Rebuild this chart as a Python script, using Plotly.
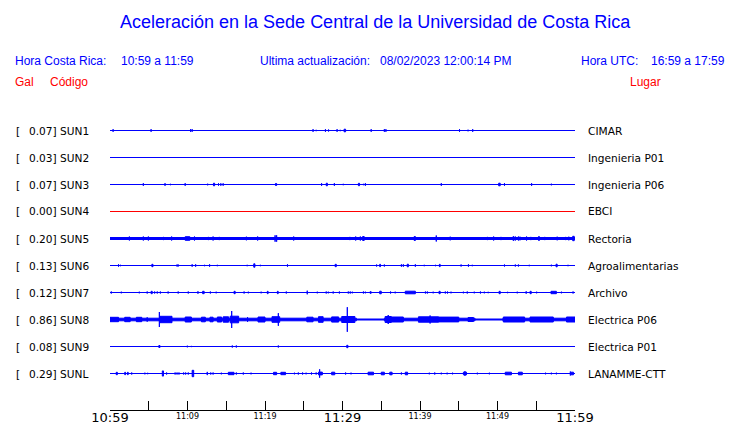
import plotly.graph_objects as go

# ---------------- data ----------------
codes = ["SUN1", "SUN2", "SUN3", "SUN4", "SUN5", "SUN6", "SUN7", "SUN8", "SUN9", "SUNL"]
places = ["CIMAR", "Ingenieria P01", "Ingenieria P06", "EBCI", "Rectoria",
          "Agroalimentarias", "Archivo", "Electrica P06", "Electrica P01", "LANAMME-CTT"]
peak_gal = [0.07, 0.03, 0.07, 0.00, 0.20, 0.13, 0.12, 0.86, 0.08, 0.29]
trace_colors = ["#0000ff", "#0000ff", "#0000ff", "#ff0000", "#0000ff",
                "#0000ff", "#0000ff", "#0000ff", "#0000ff", "#0000ff"]

# background noise band: (start_min, end_min, half amplitude)
sun1_band = [(0, 60, 0)]
sun2_band = [(0, 60, 0)]
sun3_band = [(0, 60, 0)]
sun4_band = [(0, 60, 0)]
sun5_band = [(0, 60, 1.0)]
sun6_band = [(0, 60, 0)]
sun7_band = [(0, 60, 0)]
sun8_band = [(0, 31.8, 1.3), (31.8, 35.4, 0.5), (35.4, 47.1, 1.3), (47.1, 50.7, 0.5), (50.7, 60, 1.3)]
sun9_band = [(0, 60, 0)]
sunl_band = [(0, 60, 0)]

# events: (start_min, end_min, half amplitude)
sun1_events = [(0.4, 0.4, 1.3), (5.3, 5.3, 1.3), (10.4, 10.4, 1.3), (10.6, 10.6, 1.3), (26.2, 26.2, 1.3),
               (26.6, 26.6, 0.7), (27.8, 27.8, 1.3), (28.2, 28.2, 1.0), (29.3, 29.3, 1.3), (29.7, 29.7, 0.7),
               (30.2, 30.4, 1.3), (33.7, 33.7, 1.3), (35.4, 35.4, 1.3), (35.6, 35.6, 1.3), (45.1, 45.1, 1.3),
               (46.2, 46.2, 0.8), (46.8, 46.8, 1.3)]
sun2_events = []
sun3_events = [(4.3, 4.3, 1.3), (7.1, 7.1, 1.3), (7.8, 7.8, 0.7), (9.7, 9.7, 1.3), (12.6, 12.6, 0.8),
               (13.35, 13.5, 1.3), (14.0, 14.0, 1.2), (14.3, 14.3, 1.2), (14.6, 14.6, 1.2), (21.35, 21.5, 1.0),
               (27.3, 27.3, 1.3), (27.9, 28.05, 1.3), (28.95, 28.95, 1.3), (30.1, 30.1, 0.7), (32.05, 32.2, 1.2),
               (32.7, 32.7, 0.7), (32.95, 32.95, 1.3), (42.75, 42.75, 1.3), (50.15, 50.35, 1.3), (50.9, 50.9, 1.3),
               (54.4, 54.4, 1.3), (56.95, 56.95, 0.8)]
sun4_events = []
sun5_events = [(2.5, 2.5, 2), (4.3, 4.3, 2), (4.95, 4.95, 2), (6.9, 6.9, 1.6), (7.95, 7.95, 2), (9.7, 10.3, 1.8),
               (10.9, 10.9, 2), (12.7, 12.7, 1.6), (13.3, 13.3, 2), (14.1, 14.1, 1.6), (17.6, 17.6, 1.8),
               (19.05, 19.05, 2), (19.35, 19.35, 1.5), (21.3, 21.3, 3.2), (21.5, 21.5, 3.2), (23.7, 23.7, 2),
               (30.95, 30.95, 1.6), (31.7, 31.7, 2), (32.3, 32.3, 2), (32.6, 32.8, 2), (39.25, 39.4, 2),
               (42.1, 42.1, 3), (43.9, 43.9, 1.8), (48.7, 48.7, 1.6), (49.5, 49.5, 2), (50.45, 50.45, 1.6),
               (52.0, 52.1, 2), (52.3, 52.3, 2), (52.7, 52.7, 2), (52.9, 52.9, 1.8), (53.75, 53.75, 2),
               (54.3, 54.3, 1.6), (55.3, 55.4, 2), (56.1, 56.1, 1.6), (57.7, 57.7, 1.8), (58.8, 58.8, 1.6),
               (59.2, 59.2, 1.8), (59.7, 59.9, 2.2)]
sun6_events = [(1.1, 1.1, 1.2), (1.35, 1.35, 0.7), (5.4, 5.55, 1.2), (8.65, 8.65, 1.0), (8.8, 8.8, 1.0),
               (10.6, 10.6, 1.2), (11.05, 11.05, 1.2), (12.2, 12.2, 0.7), (12.85, 12.85, 1.2), (13.85, 13.85, 0.7),
               (17.7, 17.7, 0.7), (18.55, 18.7, 1.7), (19.4, 19.4, 0.7), (22.9, 22.9, 1.2), (29.05, 29.2, 1.2),
               (34.4, 34.4, 1.0), (34.8, 34.9, 1.2), (35.4, 35.4, 1.0), (37.6, 37.6, 1.2), (37.85, 37.85, 1.2),
               (38.35, 38.5, 1.3), (39.4, 39.4, 1.2), (40.55, 40.55, 0.7), (42.0, 42.0, 0.7), (42.5, 42.6, 1.2),
               (45.3, 45.3, 1.0), (46.25, 46.25, 1.2), (46.75, 46.75, 0.7), (50.9, 50.9, 1.0), (52.3, 52.3, 1.0),
               (52.7, 52.7, 1.0), (54.1, 54.1, 0.7), (56.95, 56.95, 0.8), (57.55, 57.7, 1.3), (59.1, 59.1, 0.7)]
sun7_events = [(0.17, 0.17, 1.0), (1.46, 1.46, 0.8), (3.78, 3.78, 0.8), (4.8, 4.8, 1.0), (5.3, 5.45, 1.2),
               (5.76, 5.76, 1.0), (6.1, 6.1, 1.0), (6.5, 6.5, 1.0), (7.5, 7.5, 1.0), (8.8, 8.8, 1.0),
               (10.1, 10.1, 1.0), (11.35, 11.35, 1.2), (11.95, 12.15, 1.2), (12.95, 12.95, 1.0), (13.7, 13.7, 0.8),
               (16.0, 16.15, 1.2), (17.3, 17.3, 1.0), (17.85, 17.85, 0.8), (19.5, 19.5, 0.8), (20.3, 20.4, 1.2),
               (21.6, 21.7, 1.2), (22.75, 22.75, 1.0), (25.45, 25.45, 1.8), (26.75, 26.75, 0.8), (27.9, 27.9, 1.0),
               (28.17, 28.17, 0.8), (28.8, 28.8, 1.0), (29.6, 29.6, 1.0), (30.75, 30.75, 1.0), (31.0, 31.0, 1.0),
               (31.27, 31.27, 0.8), (32.7, 32.7, 1.0), (32.95, 32.95, 0.8), (33.55, 33.7, 0.8), (34.8, 35.0, 1.3),
               (36.2, 36.2, 1.0), (36.8, 36.8, 0.8), (38.1, 39.4, 1.3), (40.7, 40.7, 1.0), (40.95, 40.95, 1.0),
               (41.7, 41.7, 0.8), (42.45, 42.6, 1.2), (43.27, 43.27, 1.0), (43.55, 43.55, 1.0), (44.0, 44.0, 0.8),
               (45.6, 45.6, 0.8), (46.1, 46.1, 1.0), (47.0, 47.0, 0.8), (47.8, 47.8, 1.0), (48.3, 48.3, 0.8),
               (48.8, 48.8, 0.7), (50.2, 50.35, 1.2), (51.3, 51.3, 0.7), (52.55, 52.55, 0.8), (53.7, 53.7, 1.2),
               (54.2, 54.35, 1.2), (55.05, 55.05, 0.8), (56.9, 57.6, 1.2), (58.25, 58.25, 0.8), (59.75, 59.75, 1.0)]
sun8_events = [(0.0, 1.1, 2.2), (1.9, 2.6, 2.2), (3.4, 4.1, 2.2), (4.8, 4.8, 2.2), (6.37, 6.37, 7.5),
               (6.45, 8.0, 3.2), (9.7, 10.5, 2.5), (11.8, 12.3, 2.3), (12.9, 13.3, 2.3), (13.85, 14.4, 2.5),
               (14.6, 15.3, 2.7), (15.5, 16.6, 3.3), (15.7, 15.7, 8.5), (17.75, 17.75, 2.3), (19.1, 20.0, 2.5),
               (20.9, 21.9, 2.8), (21.72, 21.72, 6.3), (25.4, 26.2, 2.3), (26.9, 27.5, 2.8), (28.6, 29.5, 2.6),
               (29.9, 31.6, 3.0), (30.62, 30.62, 12.3), (35.5, 36.3, 3.0), (35.9, 35.9, 4.5), (36.3, 37.85, 2.5),
               (39.8, 42.4, 2.7), (41.3, 41.3, 4.0), (42.4, 45.0, 2.4), (46.2, 46.9, 2.0), (50.75, 53.5, 2.5),
               (54.2, 57.2, 2.5), (58.9, 60.0, 2.5)]
sun9_events = [(6.3, 6.45, 1.0), (9.98, 9.98, 0.8), (10.5, 10.5, 0.6), (15.78, 15.78, 1.0), (16.3, 16.3, 1.0),
               (21.72, 21.72, 1.0), (30.55, 30.7, 1.2)]
sunl_events = [(0.8, 0.95, 1.2), (1.9, 2.0, 1.2), (2.25, 2.35, 1.2), (2.8, 2.8, 1.0), (4.5, 4.5, 0.8),
               (4.86, 4.86, 0.7), (6.75, 6.9, 2.6), (7.3, 7.3, 1.0), (8.4, 8.4, 1.0), (8.65, 8.65, 1.0),
               (8.9, 8.9, 1.0), (9.5, 9.5, 1.0), (9.76, 9.76, 1.0), (10.1, 10.1, 1.0), (10.6, 10.8, 3.2),
               (12.55, 12.55, 1.6), (13.0, 13.0, 1.0), (13.3, 13.3, 1.0), (14.37, 14.37, 0.8), (15.27, 16.0, 1.2),
               (16.3, 16.3, 1.0), (17.2, 17.2, 1.0), (18.2, 18.2, 0.8), (21.1, 21.5, 1.2), (22.05, 22.65, 1.2),
               (23.8, 23.8, 0.8), (24.3, 24.3, 1.0), (24.85, 24.85, 1.0), (25.3, 25.3, 0.8), (26.0, 26.0, 1.0),
               (26.6, 26.6, 1.0), (26.9, 27.4, 1.4), (27.05, 27.05, 4.2), (28.6, 29.0, 1.3), (30.4, 30.4, 1.0),
               (31.1, 31.1, 0.8), (33.3, 34.0, 1.3), (35.0, 35.4, 1.3), (36.1, 36.4, 1.3), (37.6, 37.6, 1.0),
               (38.1, 38.4, 1.3), (41.2, 41.2, 0.8), (41.9, 41.9, 1.0), (42.75, 42.75, 0.8), (43.5, 43.5, 0.8),
               (44.2, 44.2, 0.8), (45.6, 46.0, 1.3), (45.8, 45.8, 2.3), (47.4, 47.4, 0.8), (48.95, 48.95, 0.8),
               (51.0, 51.8, 1.3), (52.7, 53.2, 1.3), (56.2, 56.2, 0.8), (56.95, 56.95, 0.8), (57.6, 57.6, 0.8),
               (59.4, 59.4, 2.0), (59.5, 59.8, 1.3)]

bands = [sun1_band, sun2_band, sun3_band, sun4_band, sun5_band,
         sun6_band, sun7_band, sun8_band, sun9_band, sunl_band]
events = [sun1_events, sun2_events, sun3_events, sun4_events, sun5_events,
          sun6_events, sun7_events, sun8_events, sun9_events, sunl_events]

# time axis (minutes after 10:59)
minor_tick_min = [0, 5, 10, 15, 20, 25, 30, 35, 40, 45, 50, 55, 60]
minor_tick_txt = ["", "", "11:09", "", "11:19", "", "", "", "11:39", "", "11:49", "", ""]
major_tick_min = [0, 30, 60]
major_tick_txt = ["10:59", "11:29", "11:59"]

title_text = "Aceleración en la Sede Central de la Universidad de Costa Rica"
hora_cr = "10:59 a 11:59"
hora_utc = "16:59 a 17:59"
actualizacion = "08/02/2023 12:00:14 PM"

# ---------------- layout constants ----------------
VIEW_W, VIEW_H = 740, 423
PAGE_OFF = 8                      # default body margin of the html page
W, H = VIEW_W - PAGE_OFF, VIEW_H - PAGE_OFF
ROW0, ROW_STEP = 130.5, 27.0      # in window pixels
PLOT_L, PLOT_R = 110, 575         # in window pixels
AXIS_Y = 409.5
MAJOR_LABEL_AXIS_Y = 407.5
BLUE, RED = "#0000ff", "#ff0000"
SANS = "Liberation Sans, Arial, sans-serif"
DEJAVU = "DejaVu Sans, sans-serif"
ROW_FONT = 10.6


def px_x(p):
    return (p - PAGE_OFF) / W


def px_y(p):
    return 1 - (p - PAGE_OFF) / H


fig = go.Figure()

for i in range(len(codes)):
    c = ROW0 + ROW_STEP * i
    xs, ys = [], []
    for (t0, t1, h) in bands[i] + events[i]:
        xs += [t0, t1, t1, t0, t0, None]
        ys += [c - h, c - h, c + h, c + h, c - h, None]
    fig.add_trace(go.Scatter(
        x=xs, y=ys, mode="lines", fill="toself",
        fillcolor=trace_colors[i], line=dict(color=trace_colors[i], width=1),
        hoverinfo="skip", showlegend=False, name=codes[i]))

# helper trace so the secondary (major-label) time axis is drawn
fig.add_trace(go.Scatter(x=[0], y=[-50], xaxis="x2", yaxis="y", mode="markers",
                         marker=dict(opacity=0), hoverinfo="skip", showlegend=False))

ann = []


def txt(xp, yp, s, size, color, family, xanchor="left"):
    ann.append(dict(x=px_x(xp), y=px_y(yp), xref="paper", yref="paper", text=s,
                    showarrow=False, xanchor=xanchor, yanchor="middle",
                    font=dict(size=size, color=color, family=family), borderpad=0))


txt(375.5, 22, title_text, 18, BLUE, SANS, "center")
txt(14, 61.5, "Hora Costa Rica:", 12, BLUE, SANS)
txt(120, 61.5, hora_cr, 12, BLUE, SANS)
txt(259, 61.5, "Ultima actualización:", 12, BLUE, SANS)
txt(379, 61.5, actualizacion, 12, BLUE, SANS)
txt(579.5, 61.5, "Hora UTC:", 12, BLUE, SANS)
txt(649.5, 61.5, hora_utc, 12, BLUE, SANS)
txt(14, 82, "Gal", 12, RED, SANS)
txt(49, 82, "Código", 12, RED, SANS)
txt(629, 82, "Lugar", 12, RED, SANS)

for i in range(len(codes)):
    c = ROW0 + ROW_STEP * i
    txt(14.5, c, "[", ROW_FONT, "#000000", DEJAVU)
    txt(27.5, c, f"{peak_gal[i]:.2f}] {codes[i]}", ROW_FONT, "#000000", DEJAVU)
    txt(586.5, c, places[i], ROW_FONT, "#000000", DEJAVU)

dom = [px_x(PLOT_L), px_x(PLOT_R)]

fig.update_layout(
    width=W, height=H, margin=dict(l=0, r=0, t=0, b=0, pad=0, autoexpand=False),
    plot_bgcolor="white", paper_bgcolor="white",
    annotations=ann,
    xaxis=dict(domain=dom, range=[0, 60], anchor="free", position=px_y(AXIS_Y), automargin=False,
               showline=True, linecolor="black", linewidth=1,
               ticks="inside", ticklen=9, tickwidth=1, tickcolor="black",
               tickmode="array", tickvals=minor_tick_min, ticktext=minor_tick_txt,
               tickfont=dict(family=DEJAVU, size=8, color="black"), ticklabelstandoff=-1,
               showgrid=False, zeroline=False, fixedrange=True),
    xaxis2=dict(domain=dom, range=[0, 60], anchor="free", position=px_y(MAJOR_LABEL_AXIS_Y),
                automargin=False, overlaying="x", showline=False, ticks="",
                tickmode="array", tickvals=major_tick_min, ticktext=major_tick_txt,
                tickfont=dict(family=DEJAVU, size=13, color="black"),
                showgrid=False, zeroline=False, fixedrange=True),
    yaxis=dict(domain=[0, 1], range=[VIEW_H, PAGE_OFF], visible=False, fixedrange=True,
               automargin=False),
)

fig.write_html("out.html")
